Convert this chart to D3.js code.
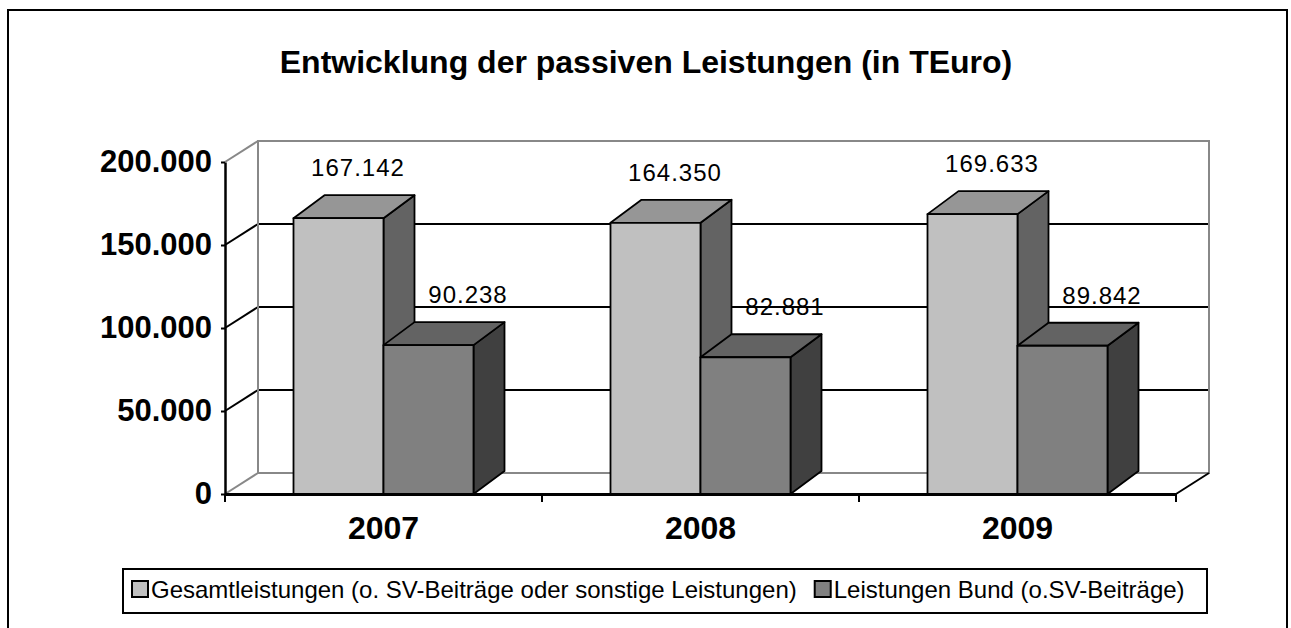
<!DOCTYPE html>
<html lang="de">
<head>
	<meta charset="UTF-8">
	<title>Entwicklung der passiven Leistungen</title>
	<script src="https://cdn.jsdelivr.net/npm/d3@7"></script>
	<style type="text/css">
		body { margin: 0; background: #fff; }
		svg { display: block; font-family: "Liberation Sans", Arial, sans-serif; }
		.bar { stroke: #000; stroke-width: 1.8; stroke-linejoin: round; }
	</style>
</head>
<body>

<script type="text/javascript">
	// data
	var years = ['2007', '2008', '2009'];
	var seriesNames = ['Gesamtleistungen (o. SV-Beiträge oder sonstige Leistungen)', 'Leistungen Bund (o.SV-Beiträge)'];
	var gesamt = [167142, 164350, 169633];
	var bund = [90238, 82881, 89842];
	var yTicks = [0, 50000, 100000, 150000, 200000];
	var title = 'Entwicklung der passiven Leistungen (in TEuro)';

	// shades per series: front, top, side
	var shades = [
		{front: '#c0c0c0', top: '#969696', side: '#636363'},
		{front: '#808080', top: '#636363', side: '#404040'}
	];

	window.onload = function () {
		var W = 1291, H = 628;
		var plot = {left: 225, right: 1176, bottom: 494, top: 162};
		var wall = {dx: 33, dy: 21};   // depth of back wall
		var depth = {dx: 31, dy: 23};  // depth of each bar

		var fmt = d3.formatLocale({decimal: ',', thousands: '.', grouping: [3], currency: ['', '']}).format(',d');

		var svg = d3.select('body').append('svg')
			.attr('width', W)
			.attr('height', H);

		// outer frame
		svg.append('rect')
			.attr('x', 8).attr('y', 10)
			.attr('width', 1279).attr('height', 700)
			.attr('fill', 'none').attr('stroke', '#000').attr('stroke-width', 2);

		svg.append('text')
			.attr('x', 646).attr('y', 73)
			.attr('text-anchor', 'middle')
			.style('font-size', '32px').style('font-weight', 'bold')
			.text(title);

		var x0 = d3.scaleBand().domain(years).range([plot.left, plot.right]);
		var x1 = d3.scaleBand().domain([0, 1])
			.range([(x0.bandwidth() - 180) / 2, (x0.bandwidth() + 180) / 2]);
		var y = d3.scaleLinear().domain([0, 200000]).range([plot.bottom, plot.top]);
		var yBar = d3.scaleLinear().domain([0, 200000]).range([plot.bottom, plot.top + 2]);

		// back wall gridlines
		svg.append('g').selectAll('line.grid')
			.data(yTicks.filter(function (d) { return d > 0 && d < 200000; }))
			.enter().append('line')
			.attr('x1', plot.left + wall.dx).attr('x2', plot.right + wall.dx)
			.attr('y1', function (d) { return y(d) - wall.dy; })
			.attr('y2', function (d) { return y(d) - wall.dy; })
			.attr('stroke', '#000').attr('stroke-width', 2);

		// left wall diagonals
		svg.append('g').selectAll('line.diag')
			.data(yTicks)
			.enter().append('line')
			.attr('x1', plot.left).attr('x2', plot.left + wall.dx)
			.attr('y1', function (d) { return y(d); })
			.attr('y2', function (d) { return y(d) - wall.dy; })
			.attr('stroke', function (d) { return (d === 0 || d === 200000) ? '#888' : '#000'; })
			.attr('stroke-width', 2);

		// wall outline (grey)
		var wx0 = plot.left + wall.dx, wx1 = plot.right + wall.dx;
		var wy0 = y(200000) - wall.dy, wy1 = y(0) - wall.dy;
		svg.append('path')
			.attr('d', 'M' + wx0 + ',' + wy1 + 'V' + wy0 + 'H' + wx1 + 'V' + wy1 + 'H' + wx0)
			.attr('fill', 'none').attr('stroke', '#888').attr('stroke-width', 2);

		// floor right edge
		svg.append('line')
			.attr('x1', plot.right).attr('y1', plot.bottom)
			.attr('x2', plot.right + wall.dx).attr('y2', plot.bottom - wall.dy)
			.attr('stroke', '#000').attr('stroke-width', 2);

		// bars
		var rows = [];
		years.forEach(function (yr, i) {
			[gesamt[i], bund[i]].forEach(function (v, s) {
				rows.push({year: yr, s: s, v: v});
			});
		});

		var bars = svg.append('g').selectAll('g.bar3d')
			.data(rows)
			.enter().append('g');

		function xs(d) { return x0(d.year) + x1(d.s); }
		var bw = x1.bandwidth();

		bars.append('path').attr('class', 'bar')
			.attr('fill', function (d) { return shades[d.s].side; })
			.attr('d', function (d) {
				var x = xs(d) + bw, t = yBar(d.v), b = yBar(0);
				return 'M' + x + ',' + t + 'L' + (x + depth.dx) + ',' + (t - depth.dy) +
					'L' + (x + depth.dx) + ',' + (b - depth.dy) + 'L' + x + ',' + b + 'Z';
			});
		bars.append('path').attr('class', 'bar')
			.attr('fill', function (d) { return shades[d.s].top; })
			.attr('d', function (d) {
				var x = xs(d), t = yBar(d.v);
				return 'M' + x + ',' + t + 'L' + (x + depth.dx) + ',' + (t - depth.dy) +
					'L' + (x + bw + depth.dx) + ',' + (t - depth.dy) + 'L' + (x + bw) + ',' + t + 'Z';
			});
		bars.append('rect').attr('class', 'bar')
			.attr('fill', function (d) { return shades[d.s].front; })
			.attr('x', xs)
			.attr('y', function (d) { return yBar(d.v); })
			.attr('width', bw)
			.attr('height', function (d) { return yBar(0) - yBar(d.v); });

		// value labels
		var labelShift = [4, 24];
		svg.append('g').selectAll('text')
			.data(rows)
			.enter().append('text')
			.attr('x', function (d) { return xs(d) + bw / 2 + depth.dx / 2 + labelShift[d.s]; })
			.attr('y', function (d) { return yBar(d.v) - depth.dy - 19; })
			.attr('text-anchor', 'middle')
			.style('font-size', '24px').style('letter-spacing', '1px')
			.text(function (d) { return fmt(d.v); });

		// y axis
		var yAxis = svg.append('g')
			.attr('transform', 'translate(' + plot.left + ',0)')
			.call(d3.axisLeft(y).tickValues(yTicks).tickFormat(fmt).tickSize(4).tickSizeOuter(0).tickPadding(9));
		yAxis.select('.domain').attr('stroke-width', 2.5);
		yAxis.selectAll('.tick line').attr('stroke-width', 2);
		yAxis.selectAll('text')
			.attr('fill', '#000')
			.style('font-size', '31px').style('font-weight', 'bold').style('font-family', '"Liberation Sans", Arial, sans-serif');

		// x axis
		var xAxis = svg.append('g')
			.attr('transform', 'translate(0,' + plot.bottom + ')')
			.call(d3.axisBottom(x0).tickSize(0).tickSizeOuter(0));
		xAxis.select('.domain').attr('stroke-width', 3);
		xAxis.selectAll('text')
			.attr('y', 45).attr('dy', 0).attr('fill', '#000')
			.style('font-size', '32px').style('font-weight', 'bold').style('font-family', '"Liberation Sans", Arial, sans-serif');
		xAxis.selectAll('line.sep')
			.data([plot.left].concat(years.map(function (d) { return x0(d) + x0.bandwidth(); })))
			.enter().append('line')
			.attr('x1', function (d) { return d; }).attr('x2', function (d) { return d; })
			.attr('y1', 0).attr('y2', 8)
			.attr('stroke', '#000').attr('stroke-width', 2);

		// legend
		var lg = svg.append('g');
		lg.append('rect')
			.attr('x', 123).attr('y', 569).attr('width', 1084).attr('height', 44)
			.attr('fill', '#fff').attr('stroke', '#000').attr('stroke-width', 2);
		var lx = 132;
		seriesNames.forEach(function (name, s) {
			lg.append('rect')
				.attr('x', lx).attr('y', 581).attr('width', 16).attr('height', 16)
				.attr('fill', shades[s].front).attr('stroke', '#000').attr('stroke-width', 2);
			var t = lg.append('text')
				.attr('x', lx + 19).attr('y', 598)
				.style('font-size', '24px')
				.text(name);
			lx = lx + 19 + t.node().getComputedTextLength() + 18;
		});
	};
</script>

</body>
</html>
